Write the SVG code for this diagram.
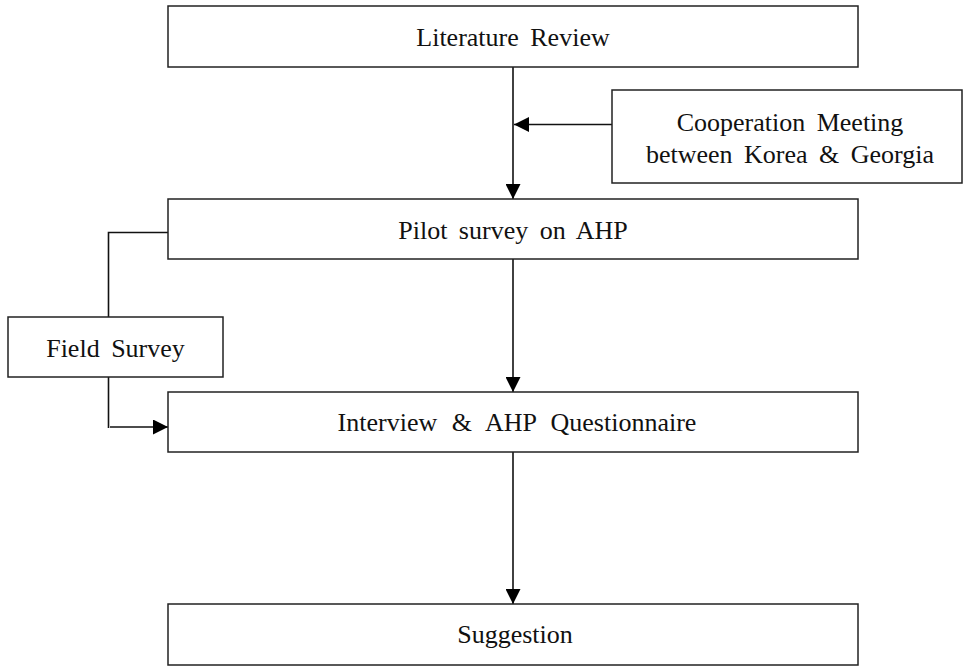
<svg xmlns="http://www.w3.org/2000/svg" width="963" height="666" viewBox="0 0 963 666">
  <style>
    .box { fill: #ffffff; stroke: #222222; stroke-width: 1.5; }
    .lbl { font-family: "Liberation Serif", "Times New Roman", serif; font-size: 26px; fill: #111111; text-anchor: middle; word-spacing: 5px; }
    .wide { word-spacing: 8px; }
    .conn { fill: none; stroke: #111111; stroke-width: 1.6; }
  </style>
  <defs>
    <marker id="arrow" viewBox="0 0 15 15" refX="15" refY="7.5" markerWidth="15" markerHeight="15" markerUnits="userSpaceOnUse" orient="auto">
      <path d="M0,0 L15,7.5 L0,15 z" fill="#000000"/>
    </marker>
  </defs>
  <rect x="0" y="0" width="963" height="666" fill="#ffffff"/>

  <g id="connectors">
    <line class="conn" x1="513" y1="67" x2="513" y2="199" marker-end="url(#arrow)"/>
    <line class="conn" x1="612" y1="124.5" x2="514" y2="124.5" marker-end="url(#arrow)"/>
    <line class="conn" x1="513" y1="259" x2="513" y2="392" marker-end="url(#arrow)"/>
    <line class="conn" x1="513" y1="452" x2="513" y2="604" marker-end="url(#arrow)"/>
    <polyline class="conn" points="168,232.5 108.5,232.5 108.5,317"/>
    <line class="conn" x1="108.5" y1="377" x2="108.5" y2="428"/>
    <line class="conn" x1="110" y1="427" x2="168" y2="427" marker-end="url(#arrow)"/>
  </g>

  <g id="literature-review">
    <rect class="box" x="168" y="6" width="690" height="61"/>
    <text class="lbl" x="513" y="46">Literature Review</text>
  </g>

  <g id="cooperation-meeting">
    <rect class="box" x="612" y="90" width="350" height="93"/>
    <text class="lbl" x="790" y="131">Cooperation Meeting</text>
    <text class="lbl" x="790" y="163">between Korea &amp; Georgia</text>
  </g>

  <g id="pilot-survey">
    <rect class="box" x="168" y="199" width="690" height="60"/>
    <text class="lbl" x="513" y="239">Pilot survey on AHP</text>
  </g>

  <g id="field-survey">
    <rect class="box" x="8" y="317" width="215" height="60"/>
    <text class="lbl" x="115.5" y="357">Field Survey</text>
  </g>

  <g id="interview-questionnaire">
    <rect class="box" x="168" y="392" width="690" height="60"/>
    <text class="lbl wide" x="517" y="431">Interview &amp; AHP Questionnaire</text>
  </g>

  <g id="suggestion">
    <rect class="box" x="168" y="604" width="690" height="61"/>
    <text class="lbl" x="515" y="643">Suggestion</text>
  </g>
</svg>
